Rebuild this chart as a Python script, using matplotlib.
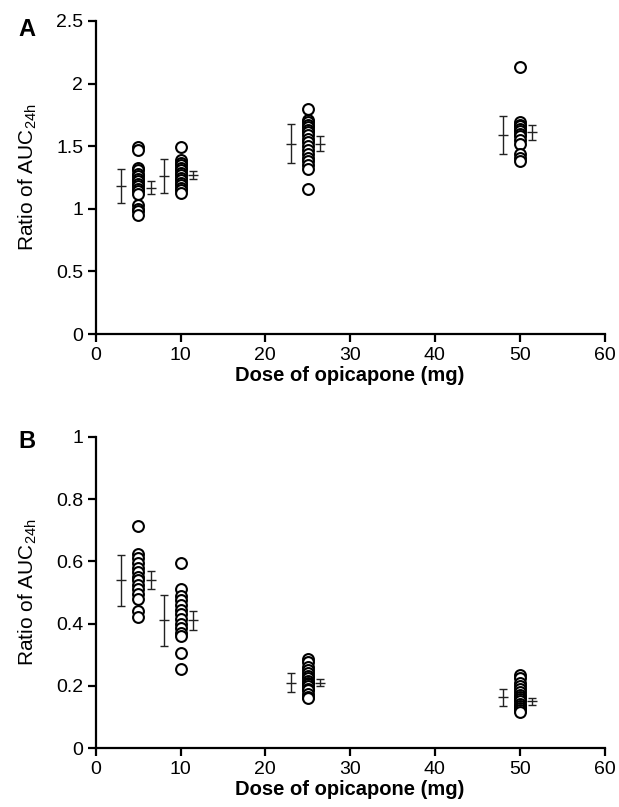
import matplotlib
matplotlib.use("Agg")
import matplotlib.pyplot as plt
from matplotlib.ticker import FuncFormatter

plt.rcParams["font.family"] = ["Liberation Sans", "DejaVu Sans"]

doses = [5, 10, 25, 50]

# panel A: individual ratios per dose
a_points = [
    [1.49, 1.47, 1.33, 1.31, 1.28, 1.26, 1.24, 1.22, 1.20, 1.18, 1.16, 1.14, 1.12, 1.03, 1.00, 0.98, 0.95],
    [1.49, 1.39, 1.37, 1.35, 1.33, 1.31, 1.29, 1.27, 1.25, 1.23, 1.21, 1.19, 1.17, 1.15, 1.13],
    [1.80, 1.71, 1.69, 1.67, 1.65, 1.63, 1.61, 1.59, 1.56, 1.53, 1.50, 1.47, 1.44, 1.41, 1.38, 1.35, 1.32, 1.16],
    [2.13, 1.69, 1.67, 1.66, 1.64, 1.62, 1.60, 1.58, 1.55, 1.52, 1.44, 1.41, 1.38],
]
a_mean = [1.18, 1.26, 1.52, 1.59]
a_sd = [0.135, 0.135, 0.155, 0.155]
a_ci_mean = [1.17, 1.27, 1.52, 1.61]
a_ci = [0.055, 0.03, 0.06, 0.06]

# panel B
b_points = [
    [0.715, 0.625, 0.61, 0.595, 0.58, 0.565, 0.55, 0.54, 0.525, 0.51, 0.495, 0.48, 0.44, 0.42],
    [0.595, 0.51, 0.49, 0.475, 0.46, 0.445, 0.43, 0.415, 0.40, 0.385, 0.37, 0.36, 0.305, 0.255],
    [0.285, 0.275, 0.26, 0.25, 0.24, 0.23, 0.225, 0.215, 0.21, 0.205, 0.20, 0.19, 0.185, 0.175, 0.165, 0.16],
    [0.235, 0.225, 0.21, 0.20, 0.19, 0.18, 0.172, 0.165, 0.158, 0.15, 0.143, 0.136, 0.13, 0.123, 0.116],
]
b_mean = [0.54, 0.41, 0.21, 0.163]
b_sd = [0.082, 0.082, 0.03, 0.028]
b_ci_mean = [0.54, 0.41, 0.21, 0.15]
b_ci = [0.028, 0.03, 0.012, 0.012]

fig = plt.figure(figsize=(6.19, 8.07), dpi=100)
axA = fig.add_axes([0.1546, 0.586, 0.822, 0.388])
axB = fig.add_axes([0.1546, 0.0731, 0.822, 0.3854])


def draw(ax, points, mean, sd, ci_mean, ci, ymax, yticks):
    for d, pts, m, s, cm, c in zip(doses, points, mean, sd, ci_mean, ci):
        ax.plot([d] * len(pts), pts, "o", mfc="white", mec="black", ms=7.8, mew=1.5, zorder=3)
        ax.errorbar(d - 2.0, m, yerr=s, fmt="_", color="#222222", ms=7, mew=1.0,
                    elinewidth=1.0, capsize=3.2, capthick=1.0)
        ax.errorbar(d + 1.5, cm, yerr=c, fmt="_", color="#222222", ms=7, mew=1.0,
                    elinewidth=1.0, capsize=3.2, capthick=1.0)
    ax.set_xlim(0, 60)
    ax.set_ylim(0, ymax)
    ax.set_xticks([0, 10, 20, 30, 40, 50, 60])
    ax.set_yticks(yticks)
    ax.yaxis.set_major_formatter(FuncFormatter(lambda v, p: "%g" % v))
    for side in ["top", "right"]:
        ax.spines[side].set_visible(False)
    for side in ["left", "bottom"]:
        ax.spines[side].set_linewidth(1.6)
    ax.tick_params(direction="out", length=6, width=1.6, labelsize=14, pad=3)
    ax.set_xlabel("Dose of opicapone (mg)", fontsize=14.5, fontweight="bold", labelpad=2)
    ax.set_ylabel("Ratio of AUC$_{\\mathregular{24h}}$", fontsize=15, labelpad=12)


draw(axA, a_points, a_mean, a_sd, a_ci_mean, a_ci, 2.5, [0, 0.5, 1, 1.5, 2, 2.5])
draw(axB, b_points, b_mean, b_sd, b_ci_mean, b_ci, 1.0, [0, 0.2, 0.4, 0.6, 0.8, 1.0])

fig.text(0.03, 0.963, "A", fontsize=17, fontweight="bold", ha="left", va="center")
fig.text(0.03, 0.453, "B", fontsize=17, fontweight="bold", ha="left", va="center")

fig.savefig("out.png", dpi=100)
